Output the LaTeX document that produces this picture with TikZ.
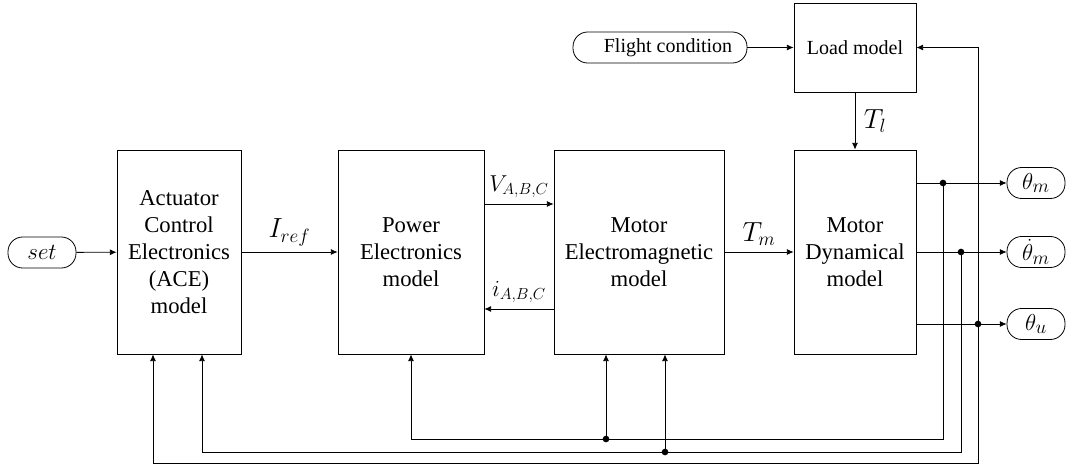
\documentclass[tikz,border=0pt]{standalone}
\usepackage{amsmath,amssymb}
\usepackage{fontspec}
\setmainfont{Liberation Serif}
\usepackage{tikz}
\usetikzlibrary{arrows.meta}

\begin{document}
\begin{tikzpicture}[x=0.75pt, y=-0.75pt, line width=0.6pt,
	block/.style={draw, align=center, inner sep=0pt, minimum height=153pt, font=\fontsize{17}{20.25}\selectfont},
	pill/.style={draw, rounded corners=11pt, minimum height=23.25pt, inner sep=0pt, font=\fontsize{19}{20}\selectfont},
	sig/.style={-{Latex[length=5pt, width=4.5pt]}},
	lbl/.style={font=\fontsize{20}{22}\selectfont},
	dot/.style={circle, fill, inner sep=0pt, minimum size=5pt}]
	\useasboundingbox (0,0) rectangle (1066,467);
	\node[block, minimum width=93pt] (ace) at (179,252) {Actuator\\Control\\Electronics\\(ACE)\\model};
	\node[block, minimum width=109.5pt] (pe) at (411,252) {Power\\Electronics\\model};
	\node[block, minimum width=127.5pt] (em) at (639,252) {Motor\\Electromagnetic\\model};
	\node[block, minimum width=91.5pt] (dyn) at (855,252) {Motor\\Dynamical\\model};
	\node[block, minimum width=91.5pt, minimum height=66.75pt, font=\fontsize{15}{18}\selectfont] (load) at (855,47.5) {Load model};
	\node[pill, minimum width=130.5pt, font=\fontsize{15}{18}\selectfont] (flight) at (660,47.5) {\hspace{12pt}Flight condition};
	\node[pill, minimum width=51pt] (set) at (42,252.5) {$set$};
	\node[pill, minimum width=43.5pt] (thm) at (1036,183) {$\theta_m$};
	\node[pill, minimum width=43.5pt] (thmd) at (1036,252) {$\dot{\theta}_m$};
	\node[pill, minimum width=43.5pt] (thu) at (1036,324) {$\theta_u$};
	\draw[sig] (set) -- (ace);
	\draw[sig] (ace) -- node[lbl, above=1pt] (iref) {$I_{ref}$} (pe);
	\draw[sig] ([yshift=36pt]pe.east) -- node[lbl, above=1pt, font=\fontsize{17}{20}\selectfont] (vabc) {$V_{A,B,C}$} ([yshift=36pt]em.west);
	\draw[sig] ([yshift=-42.75pt]em.west) -- node[lbl, above=1pt, font=\fontsize{17}{20}\selectfont] (iabc) {$i_{A,B,C}$} ([yshift=-42.75pt]pe.east);
	\draw[sig] (em) -- node[lbl, above=1pt] (tm) {$T_m$} (dyn);
	\draw[sig] (load) -- node[lbl, right=3pt] (tl) {$T_l$} (dyn);
	\draw[sig] (flight) -- (load);
	\draw[sig] (dyn.east |- thm) -- (thm);
	\draw[sig] (dyn.east |- thmd) -- (thmd);
	\draw[sig] (dyn.east |- thu) -- (thu);
	\coordinate (b1) at (943,439);
	\coordinate (b2) at (961,452);
	\coordinate (b3) at (978,463);
	\node[dot] (j1) at (943,183) {};
	\node[dot] (j2) at (961,252) {};
	\node[dot] (j3) at (978,324) {};
	\node[dot] (j4) at (606,439) {};
	\node[dot] (j5) at (665,452) {};
	\draw[sig] (j1.center) -- (b1) -| (pe.south);
	\draw[sig] (j4.center) -- (j4 |- em.south);
	\draw[sig] (j2.center) -- (b2) -| ([xshift=17.25pt]ace.south);
	\draw[sig] (j5.center) -- (j5 |- em.south);
	\draw[sig] (j3.center) |- (load.east);
	\draw[sig] (j3.center) -- (b3) -| ([xshift=-19.5pt]ace.south);
\end{tikzpicture}
\end{document}
